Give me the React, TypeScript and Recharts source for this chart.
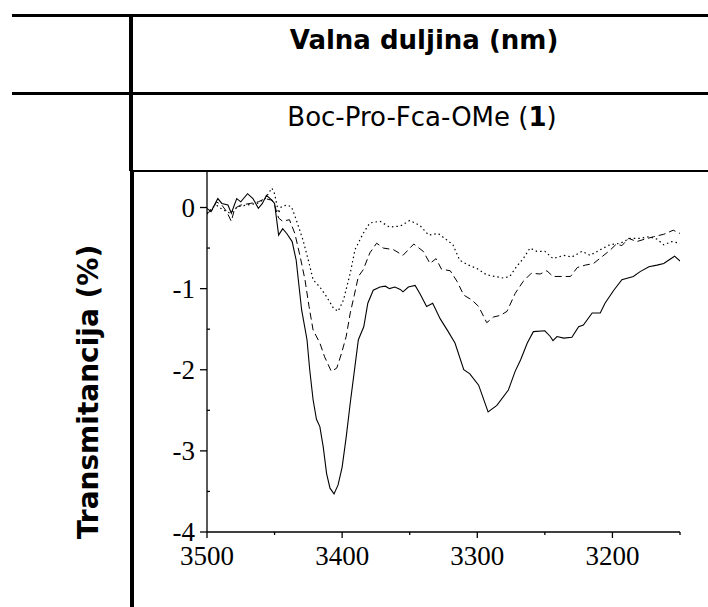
import React from "react";
import { LineChart, Line, XAxis, YAxis } from "recharts";

// wavenumber (cm-1) and transmittance readings for the three spectra
const solidX = [3500, 3497, 3492, 3489, 3484.5, 3482, 3478, 3475, 3470, 3466, 3462, 3459, 3456, 3452, 3450, 3447, 3444, 3441, 3437, 3434, 3430, 3426, 3424, 3421.5, 3419, 3416.5, 3414, 3411.5, 3409, 3406, 3403, 3400, 3397, 3394, 3391, 3388, 3384, 3381, 3377, 3372, 3368, 3365, 3361, 3357, 3355, 3351, 3346, 3342.5, 3337.5, 3333, 3327.5, 3321.5, 3316.5, 3310, 3305.5, 3299, 3292, 3285.5, 3277, 3272, 3268, 3263, 3258.5, 3250, 3246, 3244, 3241, 3236, 3230, 3225, 3221.5, 3215, 3209, 3205.5, 3199, 3193, 3184.5, 3179.5, 3173, 3167, 3162, 3158.5, 3154, 3150];
const solidY = [-0.01, -0.05, 0.11, 0.05, 0.03, -0.07, 0.11, 0.07, 0.17, 0.11, -0.01, 0.05, 0.15, 0.09, 0.05, -0.34, -0.26, -0.32, -0.42, -0.65, -1.26, -1.63, -2.0, -2.37, -2.61, -2.7, -2.95, -3.28, -3.46, -3.53, -3.42, -3.2, -2.83, -2.41, -2.02, -1.63, -1.47, -1.18, -1.02, -0.98, -0.97, -1.0, -0.98, -1.01, -1.04, -0.98, -0.96, -1.06, -1.22, -1.18, -1.37, -1.53, -1.67, -2.0, -2.05, -2.19, -2.52, -2.44, -2.25, -2.02, -1.88, -1.67, -1.53, -1.52, -1.59, -1.64, -1.59, -1.61, -1.6, -1.47, -1.45, -1.3, -1.3, -1.18, -1.02, -0.89, -0.85, -0.79, -0.73, -0.71, -0.69, -0.65, -0.6, -0.66];

const dashX = [3500, 3496, 3493, 3489, 3485.5, 3482, 3479.5, 3475, 3468, 3462, 3457, 3452, 3450, 3447, 3444, 3439, 3435, 3431, 3427.5, 3424.5, 3421.5, 3416.5, 3413, 3408, 3404, 3400.5, 3397, 3394, 3391, 3388, 3384.5, 3379.5, 3374.5, 3369.5, 3362, 3355, 3347, 3340, 3335, 3330.5, 3326.5, 3320, 3315, 3310, 3304, 3299, 3293, 3288, 3283, 3278, 3272, 3266, 3260, 3253.5, 3248.5, 3244, 3236, 3231, 3226, 3220, 3214, 3208, 3202, 3197, 3193, 3188, 3182, 3176, 3169.5, 3162, 3155, 3150];
const dashY = [-0.07, -0.03, 0.07, 0.03, -0.05, -0.17, -0.01, 0.03, 0.05, 0.07, 0.11, 0.09, 0.03, -0.13, -0.17, -0.15, -0.32, -0.61, -0.89, -1.22, -1.51, -1.67, -1.84, -2.02, -1.98, -1.8, -1.59, -1.3, -1.08, -0.85, -0.77, -0.56, -0.44, -0.5, -0.52, -0.59, -0.45, -0.54, -0.69, -0.63, -0.76, -0.78, -0.91, -1.08, -1.14, -1.22, -1.42, -1.35, -1.33, -1.28, -1.06, -0.91, -0.81, -0.82, -0.78, -0.85, -0.85, -0.85, -0.74, -0.71, -0.69, -0.61, -0.53, -0.45, -0.47, -0.38, -0.42, -0.39, -0.36, -0.33, -0.28, -0.32];

const dotX = [3500, 3496, 3493, 3489, 3483, 3477, 3471, 3463, 3457, 3452, 3450, 3447, 3445, 3441, 3437.5, 3434, 3429, 3425, 3421.5, 3416.5, 3411.5, 3406.5, 3403, 3399, 3394, 3390.5, 3384.5, 3379.5, 3372, 3365, 3357, 3350, 3342.5, 3336, 3329, 3322.5, 3318, 3313, 3306.5, 3300.5, 3293, 3287, 3280.5, 3276, 3271, 3266, 3261, 3256, 3250, 3244, 3236, 3230, 3222.5, 3216.5, 3209, 3202, 3194, 3187, 3179.5, 3173, 3167, 3162, 3156, 3150];
const dotY = [-0.08, 0.0, 0.03, -0.02, -0.07, 0.01, 0.03, 0.05, 0.11, 0.24, 0.17, -0.07, 0.01, 0.03, 0.01, -0.15, -0.4, -0.65, -0.89, -0.98, -1.1, -1.24, -1.28, -1.14, -0.81, -0.52, -0.32, -0.19, -0.17, -0.24, -0.23, -0.16, -0.22, -0.34, -0.32, -0.4, -0.46, -0.65, -0.71, -0.75, -0.83, -0.85, -0.87, -0.85, -0.73, -0.63, -0.5, -0.54, -0.54, -0.63, -0.59, -0.61, -0.54, -0.59, -0.52, -0.46, -0.44, -0.38, -0.38, -0.36, -0.39, -0.46, -0.42, -0.44];

const xTicks = [3500, 3450, 3400, 3350, 3300, 3250, 3200, 3150];
const yTicks = [-4, -3.5, -3, -2.5, -2, -1.5, -1, -0.5, 0];

const headerText = "Valna duljina (nm)";
const compoundText = "Boc-Pro-Fca-OMe (";
const compoundNo = "1";
const yLabel = "Transmitancija (%)";

const zip = (xs: number[], ys: number[]) => xs.map((x, i) => ({ x, y: ys[i] }));
const solidData = zip(solidX, solidY);
const dashData = zip(dashX, dashY);
const dotData = zip(dotX, dotY);

const SERIF = "Liberation Serif, Times New Roman, DejaVu Serif, serif";
const SANS = "DejaVu Sans, Verdana, sans-serif";

function XTick(props: any) {
  const { x, y, payload } = props;
  const major = payload.value % 100 === 0;
  return (
    <g>
      <line x1={x} x2={x} y1={y} y2={y + (major ? 6 : 3)} stroke="#000" strokeWidth={1.3} />
      {major && (
        <text x={x} y={y + 33} textAnchor="middle" style={{ fontFamily: SERIF, fontSize: 27 }} fill="#000">
          {payload.value}
        </text>
      )}
    </g>
  );
}

function YTick(props: any) {
  const { x, y, payload } = props;
  const major = Number.isInteger(payload.value);
  return (
    <g>
      {major ? (
        <line x1={x - 7} x2={x} y1={y} y2={y} stroke="#000" strokeWidth={1.3} />
      ) : (
        <line x1={x} x2={x + 3} y1={y} y2={y} stroke="#000" strokeWidth={1.3} />
      )}
      {major && (
        <text x={x - 12} y={y + 9} textAnchor="end" style={{ fontFamily: SERIF, fontSize: 27 }} fill="#000">
          {payload.value}
        </text>
      )}
    </g>
  );
}

export default function App() {
  return (
    <div style={{ position: "absolute", left: 0, top: 0, width: 708, height: 607, background: "#fff" }}>
      <svg width={708} height={607} style={{ position: "absolute", left: 0, top: 0 }}>
        {/* table rules */}
        <rect x={12} y={14} width={696} height={3} fill="#000" />
        <rect x={12} y={92} width={696} height={3} fill="#000" />
        <rect x={129} y={14} width={4} height={157} fill="#000" />
        <rect x={130} y={170} width={578} height={2} fill="#000" />
        <rect x={130} y={171} width={4} height={436} fill="#000" />
        <text x={424} y={49} textAnchor="middle" style={{ fontFamily: SANS, fontWeight: "bold", fontSize: 26 }} fill="#000">
          {headerText}
        </text>
        <text x={422} y={126} textAnchor="middle" style={{ fontFamily: SANS, fontSize: 26 }} fill="#000">
          {compoundText}
          <tspan fontWeight="bold">{compoundNo}</tspan>)
        </text>
        <text
          transform="translate(98,392) rotate(-90)"
          textAnchor="middle"
          style={{ fontFamily: SANS, fontWeight: "bold", fontSize: 28 }}
          fill="#000"
        >
          {yLabel}
        </text>
      </svg>
      <div style={{ position: "absolute", left: 0, top: 0 }}>
        <LineChart width={708} height={607} margin={{ top: 171, right: 28, bottom: 35, left: 147 }}>
          <XAxis
            type="number"
            dataKey="x"
            domain={[3150, 3500]}
            reversed
            ticks={xTicks}
            interval={0}
            allowDataOverflow
            height={40}
            tickSize={0}
            tickMargin={0}
            tickLine={false}
            axisLine={{ stroke: "#000", strokeWidth: 1.3 }}
            tick={XTick}
          />
          <YAxis
            type="number"
            dataKey="y"
            domain={[-4, 0.45]}
            ticks={yTicks}
            interval={0}
            allowDataOverflow
            width={60}
            tickSize={0}
            tickMargin={0}
            tickLine={false}
            axisLine={{ stroke: "#000", strokeWidth: 1.3 }}
            tick={YTick}
          />
          <Line data={dotData} dataKey="y" stroke="#000" strokeWidth={1.2} strokeDasharray="1.5 3" dot={false} isAnimationActive={false} />
          <Line data={dashData} dataKey="y" stroke="#000" strokeWidth={1} strokeDasharray="7 4" dot={false} isAnimationActive={false} />
          <Line data={solidData} dataKey="y" stroke="#000" strokeWidth={1.1} dot={false} isAnimationActive={false} />
        </LineChart>
      </div>
    </div>
  );
}
